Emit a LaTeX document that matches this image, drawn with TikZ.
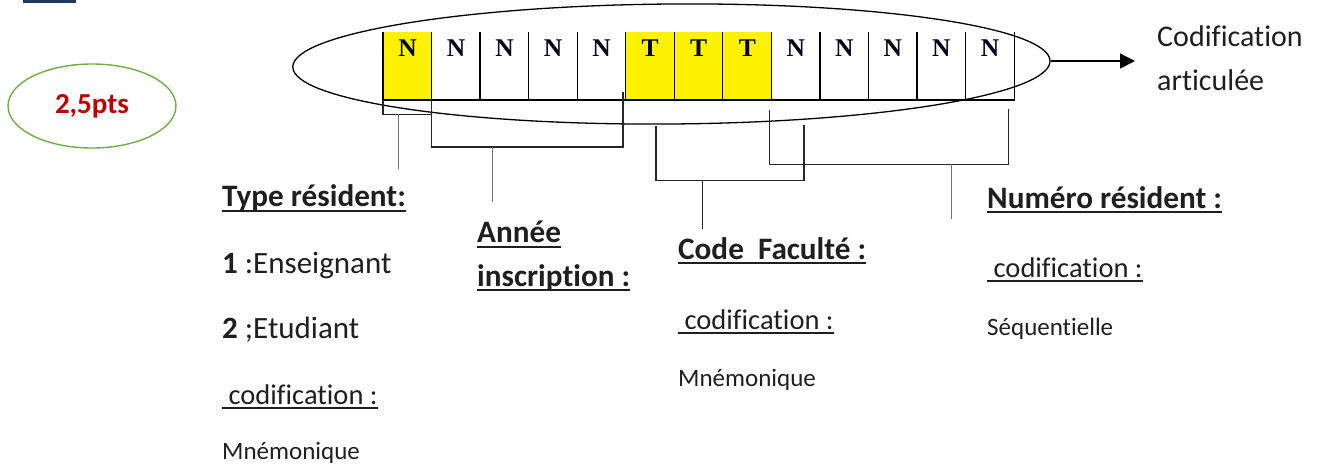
\documentclass[tikz,border=0pt]{standalone}
\usepackage{fontspec}
\setmainfont{Carlito}[Ligatures=CommonOff]
\newfontfamily\cellfont{Liberation Serif}
\usetikzlibrary{shapes.geometric, arrows.meta, calc, positioning}

\definecolor{navy}{HTML}{1F3864}
\definecolor{ptgreen}{HTML}{70AD47}
\definecolor{ptred}{HTML}{C00000}

\tikzset{
    cell/.style={minimum width=48.54pt, minimum height=67.5pt, inner sep=0pt, anchor=north west},
    letter/.style={anchor=base, inner sep=0pt, text=black!90!blue, font=\cellfont\bfseries\fontsize{25.5}{30}\selectfont},
    cline/.style={line width=1.3pt, black},
    brk/.style={line width=1.3pt, black!85},
    stem/.style={line width=1.5pt, black!55},
    lbl/.style={anchor=base west, inner sep=0pt, text=black!88, font=\fontsize{31}{36}\selectfont},
    lblb/.style={lbl, font=\bfseries\fontsize{31.2}{36}\selectfont},
    lblc/.style={lbl, font=\fontsize{28.5}{34}\selectfont},
    lbls/.style={lbl, font=\fontsize{25}{30}\selectfont},
    uline/.style={line width=1.8pt, black!88}
}

\begin{document}
\begin{tikzpicture}[x=1pt, y=-1pt]
        \useasboundingbox (0,0) rectangle (1317,465);
        \fill [navy] (23,0) rectangle (76,3);

        % the 13 positions of the code
        \foreach \i/\l/\f in {1/N/yellow, 2/N/white, 3/N/white, 4/N/white, 5/N/white, 6/T/yellow, 7/T/yellow,
                              8/T/yellow, 9/N/white, 10/N/white, 11/N/white, 12/N/white, 13/N/white} {
            \node [cell, fill=\f] (c\i) at ({383+(\i-1)*48.54}, 32) {};
            \node [letter] (l\i) at ($(c\i.north)+(0,25)$) {\l};
            \draw [cline] (c\i.north west) -- (c\i.south west);
        }
        \draw [cline] (c13.north east) -- ($(c13.south east)+(0,1.5)$);
        \draw [cline] (c1.south west) -- (c13.south east);

        \node [draw, ellipse, line width=1.3pt, minimum width=757.3pt, minimum height=120pt, rotate=0.45] (env) at (671.4,64) {};

        \node [lbl, font=\fontsize{30}{36}\selectfont] (ca1) at (1157,47) {Codification};
        \node [lbl, font=\fontsize{30}{36}\selectfont] (ca2) at (1157,91) {articulée};
        \draw [line width=1.3pt, -{Triangle[length=15pt, width=15pt]}, shorten >=22pt] (env.east) -- (env.east -| ca1.west);

        \node [draw=ptgreen, ellipse, line width=1.4pt, minimum width=168pt, minimum height=84pt, text=ptred,
               font=\bfseries\fontsize{29}{34}\selectfont] (pts) at (92,106) {2,5pts};

        % brackets
        \draw [brk] (c1.south west) -- ++(0,14.5) -- ($(c2.south west)+(0,14.5)$);
        \draw [stem] ($(c1.south west)+(15.3,14.5)$) -- ++(0,54.5);
        \draw [brk] (c2.south west) -- ++(0,47.2) -| ($(c5.south east)+(-3,-7.5)$);
        \draw [stem] ($(c2.south west)+(61.2,47.2)$) -- ++(0,55.3);
        \draw [brk] ($(c6.south west)+(30.3,26)$) -- ++(0,54.5) -| ($(c9.south west)+(32.7,25.5)$);
        \draw [brk] ($(c6.south west)+(76.6,80.5)$) -- ++(0,49);
        \draw [brk] ($(c9.south west)+(-2,10.5)$) -- ++(0,54) -| ($(c13.south east)+(-5.7,9.5)$);
        \draw [stem] ($(c9.south west)+(180.4,64.5)$) -- ++(0,55);

        % type resident
        \node [lblb] (tr) at (222,207) {Type résident:};
        \node [lbl] (tr1) at (222,273) {\textbf{1} :Enseignant};
        \node [lbl] (tr2) at (222,338) {\textbf{2} ;Etudiant};
        \node [lblc] (tcod) at (222,404) {\ codification :};
        \node [lbls] (tval) at (222,459) {Mnémonique};

        % annee
        \node [lblb] (ai1) at (477,243) {Année};
        \node [lblb] (ai2) at (477,286) {inscription :};

        % code faculte
        \node [lblb] (cf) at (678,259) {Code\ \ Faculté :};
        \node [lblc] (ccod) at (678,329) {\ codification :};
        \node [lbls] (cval) at (678,386) {Mnémonique};

        % numero resident
        \node [lblb] (nr) at (987,208) {Numéro résident :};
        \node [lblc] (ncod) at (987,277) {\ codification :};
        \node [lbls] (nval) at (987,335) {Séquentielle};

        \foreach \n in {tr, tcod, ai1, ai2, cf, ccod, nr, ncod}
            \draw [uline] ([yshift=-4pt]\n.base west) -- ([yshift=-4pt]\n.base east);
\end{tikzpicture}
\end{document}
